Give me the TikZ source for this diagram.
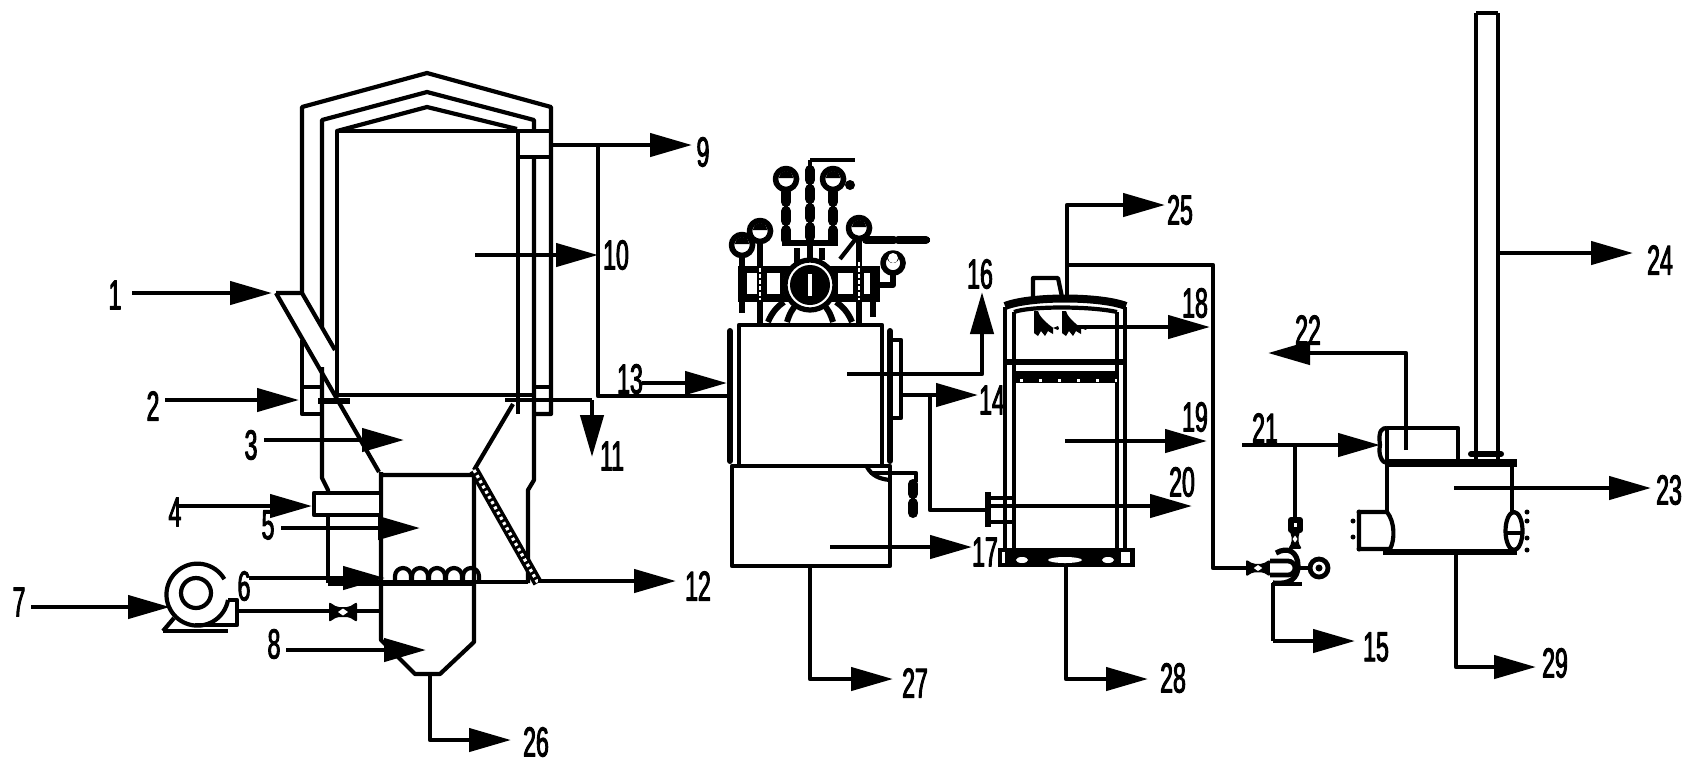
\documentclass[tikz,border=0pt]{standalone}
\usepackage{fontspec}
\usetikzlibrary{arrows.meta, calc}
\newfontfamily\numfont[FakeStretch=0.55,FakeBold=2.2]{Liberation Sans}
\tikzset{
	pipe/.style={line width=2.1pt, line join=round},
	heavy/.style={line width=3pt, line join=round},
	leader/.style={line width=2.2pt, line join=round, -{Triangle[length=21pt, width=11.5pt]}},
	numlabel/.style={font=\numfont\fontsize{21}{21}\selectfont, inner sep=0pt}
}
% label, start and tip of one leader
\newcommand{\Lead}[4]{%
	\node[numlabel] (L#1) at (#2) {#1};
	\coordinate (S#1) at (#3);
	\coordinate (T#1) at (#4);
}
\newcommand{\Valve}[3]{%
	\begin{scope}[shift={(#1)}, rotate=#2, scale=#3]
		\fill[rounded corners=1pt] (-14,-10) -- (-6,-5) -- (6,-5) -- (14,-10) -- (14,10) -- (6,5) -- (-6,5) -- (-14,10) -- cycle;
		\fill[white] (-5,0) -- (0,-3.5) -- (5,0) -- (0,3.5) -- cycle;
	\end{scope}%
}
\newcommand{\Gauge}[1]{%
	\draw[line width=2.8pt, fill=white] (#1) circle (10.5);
	\fill ($ (#1)+(7,-1) $) arc (0:-180:7) -- cycle;
}
\newcommand{\Chain}[2]{%
	\draw[pipe] (#1) -- (#2);
	\draw[line width=5pt, line cap=round, dash pattern=on 5pt off 4.5pt] (#1) -- (#2);
}
\newcommand{\Spray}[2]{%
	\fill (#1,#2) -- ++(4,0) .. controls ++(1,8) and ++(6,12) .. ++(20,15) -- ++(-5,2) -- ++(0,6) -- ++(-5,-3) -- ++(-3,5) -- ++(-4,-5) -- ++(-3,5) -- ++(-4,-3) -- cycle;
}

\begin{document}
\begin{tikzpicture}[x=0.5pt, y=-0.5pt, pipe]
	\useasboundingbox (0,0) rectangle (1696,768);

	\Lead{1}{115,295}{132,293}{272,293}
	\Lead{2}{153,406}{165,400}{299,400}
	\Lead{3}{251,445}{264,440}{404,440}
	\Lead{4}{175,512}{178,506}{312,506}
	\Lead{5}{268,525}{281,528}{420,528}
	\Lead{6}{244,586}{249,578}{385,578}
	\Lead{7}{19,602}{31,607}{170,607}
	\Lead{8}{274,644}{286,650}{426,650}
	\Lead{9}{703,152}{553,145}{692,145}
	\Lead{10}{616,255}{475,255}{598,255}
	\Lead{11}{612,456}{592,400}{592,457}
	\Lead{12}{698,586}{538,581}{676,581}
	\Lead{13}{630,379}{642,383}{727,383}
	\Lead{14}{992,400}{902,395}{978,395}
	\Lead{15}{1376,647}{1273,641}{1355,641}
	\Lead{16}{980,274}{847,374}{982,292}
	\Lead{17}{985,552}{830,547}{972,547}
	\Lead{18}{1195,303}{1068,327}{1210,327}
	\Lead{19}{1195,417}{1065,441}{1207,441}
	\Lead{20}{1182,482}{990,506}{1192,506}
	\Lead{21}{1265,428}{1242,445}{1380,445}
	\Lead{22}{1308,330}{1406,450}{1268,353}
	\Lead{23}{1669,490}{1454,488}{1651,488}
	\Lead{24}{1660,260}{1498,253}{1633,253}
	\Lead{25}{1180,210}{1067,297}{1165,205}
	\Lead{26}{536,742}{430,674}{511,740}
	\Lead{27}{915,683}{810,566}{893,679}
	\Lead{28}{1173,678}{1066,567}{1148,679}
	\Lead{29}{1555,663}{1456,552}{1536,667}

	% furnace
	\draw (302,293) -- (302,107) -- (427,73) -- (551,107) -- (551,414) -- (535,414);
	\draw (322,327) -- (322,120) -- (427,92) -- (534,120) -- (534,131);
	\draw (337,131) -- (427,107) -- (517,129);
	\draw (337,395) -- (337,131) -- (551,131);
	\draw (518,131) -- (518,414);
	\draw (518,157) -- (551,157);
	\draw (534,157) -- (534,480) -- (528,490) -- (528,583);
	\draw (337,395) -- (534,395);
	\draw (505,400) -- (592,400);
	\draw (276,293) -- (302,293) -- (335,350);
	\draw (276,293) -- (379,472);
	\draw (302,340) -- (302,414) -- (322,414);
	\draw (302,387) -- (322,387);
	\draw (322,367) -- (322,478) -- (328,490) -- (328,493);
	\draw[heavy] (318,401) -- (350,401);
	\draw (534,387) -- (551,387);

	% chamber below the furnace
	\draw (381,472) -- (381,640) -- (415,674) -- (440,674) -- (474,642) -- (474,475) -- (381,475);
	\draw (474,470) -- (513,404);
	\draw[fill=white] (314,493) rectangle (381,515);
	\draw (328,515) -- (328,583);
	\draw[line width=3.2pt] (328,583) -- (474,583);
	\draw (474,582) -- (528,582);
	\draw[line width=5pt] (474,470) -- (538,583);
	\draw[white, line width=1.6pt, dash pattern=on 1.5pt off 1.5pt] (474,470) -- (538,583);
	\foreach \xc in {395,412,429,446,463}
		\draw (\xc,581) -- (\xc,576) arc (180:360:8) -- ++(0,5);

	% fan
	\draw (228,600) arc (10:330:31) ;
	\draw (196,593) circle (15);
	\draw (228,600) -- (237,600) -- (237,625) -- (195,625);
	\draw (163,631) -- (228,631);
	\draw (163,631) -- (174,618);
	\draw (237,611) -- (381,611);
	\Valve{343,612}{0}{1}

	% scrubber
	\draw (739,466) -- (739,325) -- (882,325) -- (882,466);
	\draw (732,466) rectangle (890,566);
	\draw[line width=3pt, line cap=round] (730,331) -- (730,461);
	\draw[line width=3pt, line cap=round] (890,331) -- (890,461);
	\draw (890,340) -- (901,340) -- (901,418) -- (890,418);
	\draw (867,467) .. controls (872,476) and (880,479) .. (890,480);
	\draw (870,473) -- (916,473) -- (916,482);
	\Chain{913,484}{913,516}

	% gauges on the scrubber
	\fill (738,266) rectangle (880,302);
	\foreach \xa/\xb in {747/757,767/780,838/853,864/870}
		\fill[white] (\xa,273) rectangle (\xb,294);
	\draw[heavy] (742,302) -- (742,313);
	\draw[heavy] (873,302) -- (873,317);
	\draw[heavy] (760,302) -- (760,323);
	\draw[heavy] (859,302) -- (859,323);
	\draw[line width=3pt] (787,322) .. controls (792,305) and (800,300) .. (810,300) .. controls (820,300) and (828,305) .. (833,322);
	\draw[line width=3pt] (768,322) .. controls (772,312) and (778,306) .. (784,302);
	\draw[line width=3pt] (852,322) .. controls (848,312) and (842,306) .. (836,302);
	\fill[white] (810,285) circle (27);
	\draw[line width=2.6pt] (810,285) circle (25);
	\fill (810,285) circle (20);
	\fill[white] (808,274) rectangle (812,296);
	\draw[heavy] (742,256) -- (742,302);
	\draw[white, line width=1pt, dash pattern=on 2pt off 1pt] (760,262) -- (760,300);
	\draw[heavy] (760,243) -- (760,266);
	\draw[heavy] (859,240) -- (859,266);
	\draw[white, line width=1pt, dash pattern=on 2pt off 1pt] (859,262) -- (859,300);
	\Gauge{742,245}
	\Gauge{760,231}
	\Gauge{786,179}
	\Gauge{833,179}
	\Gauge{859,228}
	\draw[line width=2.8pt, fill=white] (893,263) circle (10);
	\fill (893,257) circle (6);
	\fill[white] (893,258) circle (5);
	\draw[heavy] (893,273) -- (893,285) -- (878,285);
	\Chain{786,192}{786,241}
	\Chain{833,192}{833,241}
	\Chain{810,170}{810,238}
	\draw (810,160) -- (855,160);
	\draw (810,160) -- (810,170);
	\draw[heavy] (782,243) -- (838,243);
	\draw[heavy] (810,243) -- (810,262);
	\draw[heavy] (797,248) -- (797,263);
	\draw[heavy] (822,248) -- (822,260);
	\draw (840,259) -- (858,236);
	\fill (850,185) circle (5);
	\draw[line width=4pt, line cap=round, dash pattern=on 14pt off 2pt] (866,240) -- (930,240);
	\draw (866,240) -- (930,240);

	% washing column
	\draw (1005,307) -- (1005,548);
	\draw (1014,312) -- (1014,548);
	\draw (1117,312) -- (1117,548);
	\draw (1125,307) -- (1125,548);
	\draw[line width=2.6pt] (1005,362) -- (1125,362);
	\draw[line width=4pt] (1005,306) .. controls (1030,296) and (1100,296) .. (1126,306);
	\draw (1014,312) .. controls (1030,306) and (1090,306) .. (1117,312);
	\draw[line width=6pt] (1015,377) -- (1117,377);
	\draw[white, line width=1.5pt, dash pattern=on 1.5pt off 8pt] (1020,380) -- (1117,380);
	\draw (1033,297) -- (1033,278) -- (1058,278) -- (1062,297);
	\Spray{1034}{311}
	\Spray{1062}{311}
	\fill (998,548) rectangle (1135,567);
	\fill[white] (1022,560) ellipse (6 and 3);
	\fill[white] (1065,560) ellipse (17 and 3);
	\fill[white] (1108,560) ellipse (6 and 3);
	\fill[white] (1121,552) rectangle (1130,563);
	\fill[white] (1002,552) rectangle (1005,563);
	\draw[heavy] (988,492) -- (988,527);
	\draw (988,498) -- (1014,498);
	\draw (988,522) -- (1014,522);
	\draw (1067,265) -- (1213,265) -- (1213,568) -- (1246,568);
	\draw (930,395) -- (930,510) -- (988,510);

	% pump
	\Valve{1258,568}{0}{0.85}
	\draw[line width=2.4pt] (1270,561) -- (1288,561) arc (-90:90:7) -- (1270,575);
	\draw[line width=2.6pt] (1276,553) .. controls (1288,546) and (1298,552) .. (1298,566) .. controls (1298,578) and (1290,585) .. (1273,583);
	\draw[line width=2.4pt] (1272,584) -- (1302,584);
	\draw[line width=2.4pt] (1300,568) -- (1308,568);
	\draw[line width=2.4pt, fill=white] (1319,568) circle (9);
	\fill (1319,568) circle (3.5);
	\draw (1295,445) -- (1295,520);
	\draw[heavy] (1291,520) rectangle (1300,530);
	\Valve{1295,539}{90}{0.7}

	% boiler and stack
	\draw (1387,428) -- (1458,428) -- (1458,463);
	\draw (1380,445) .. controls (1378,430) and (1382,428) .. (1387,428);
	\draw (1380,445) .. controls (1378,455) and (1382,463) .. (1387,463);
	\draw (1387,428) -- (1387,463);
	\draw[line width=3.6pt] (1386,463) -- (1517,463);
	\draw (1387,463) -- (1387,512);
	\draw (1512,463) -- (1512,512);
	\draw[line width=3.2pt] (1383,552) -- (1517,552);
	\draw (1476,13) -- (1476,456);
	\draw (1498,13) -- (1498,456);
	\draw (1476,13) -- (1498,13);
	\draw[heavy, line cap=round] (1471,454) -- (1501,454);
	\draw (1476,454) -- (1476,463);
	\draw (1498,454) -- (1498,463);
	\draw (1359,512) -- (1387,512) .. controls (1395,522) and (1395,540) .. (1390,549) -- (1359,549) -- cycle;
	\fill (1353,521) circle (2.5);
	\fill (1353,537) circle (2.5);
	\fill (1359,512) circle (2.5);
	\fill (1359,549) circle (2.5);
	\draw (1514,531) ellipse (8.5 and 19);
	\draw (1506,533) -- (1522,533);
	\foreach \yb in {512,521,538,550}
		\fill (1527,\yb) circle (2.5);

	% leaders
	\draw[leader] (S1) -- (T1);
	\draw[leader] (S2) -- (T2);
	\draw[leader] (S3) -- (T3);
	\draw[leader] (S4) -- (T4);
	\draw[leader] (S5) -- (T5);
	\draw[leader] (S6) -- (T6);
	\draw[leader] (S7) -- (T7);
	\draw[leader] (S8) -- (T8);
	\draw[leader] (S9) -- (T9);
	\draw (598,145) -- (598,396) -- (730,396);
	\draw[leader] (S10) -- (T10);
	\draw[leader] (S11) -- (T11);
	\draw[leader] (S12) -- (T12);
	\draw[leader] (S13) -- (T13);
	\draw[leader] (S14) -- (T14);
	\draw[leader] (S15) -- (T15);
	\draw (1273,583) -- (S15);
	\draw[leader] (S16) -- (T16 |- S16) -- (T16);
	\draw[leader] (S17) -- (T17);
	\draw[leader] (S18) -- (T18);
	\draw[leader] (S19) -- (T19);
	\draw[leader] (S20) -- (T20);
	\draw[leader] (S21) -- (T21);
	\draw[leader] (S22) -- (S22 |- T22) -- (T22);
	\draw[leader] (S23) -- (T23);
	\draw[leader] (S24) -- (T24);
	\draw[leader] (S25) -- (S25 |- T25) -- (T25);
	\draw[leader] (S26) -- (S26 |- T26) -- (T26);
	\draw[leader] (S27) -- (S27 |- T27) -- (T27);
	\draw[leader] (S28) -- (S28 |- T28) -- (T28);
	\draw[leader] (S29) -- (S29 |- T29) -- (T29);

\end{tikzpicture}
\end{document}
